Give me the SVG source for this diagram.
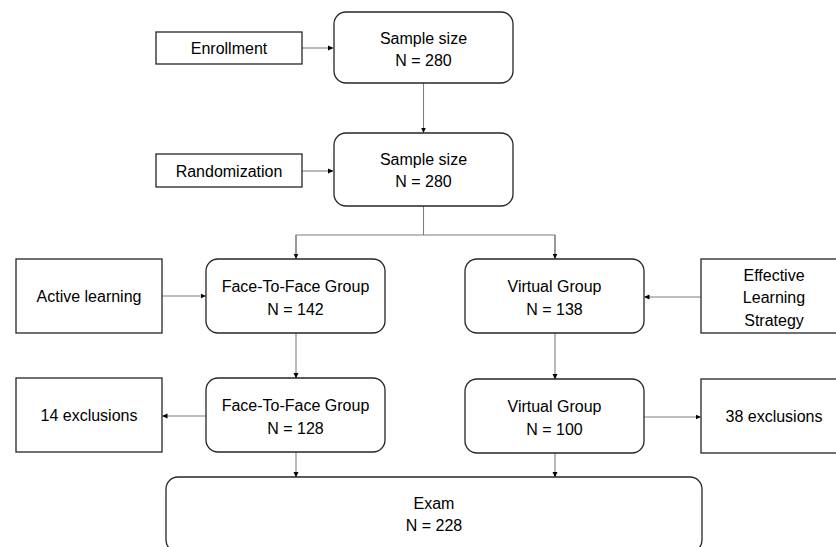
<svg xmlns="http://www.w3.org/2000/svg" width="836" height="547" viewBox="0 0 836 547">
<style>
.box{fill:#fff;stroke:#262626;stroke-width:1.3}
.t{font-family:"Liberation Sans",Arial,sans-serif;font-size:16px;fill:#000;text-anchor:middle}
.c{fill:none;stroke:#7f7f7f;stroke-width:1.1}
</style>
<defs>
<marker id="ah" markerWidth="6" markerHeight="6" refX="5" refY="3" orient="auto" markerUnits="userSpaceOnUse">
<path d="M0,0.5 L5.5,3 L0,5.5 Z" fill="#000"/>
</marker>
</defs>
<rect width="836" height="547" fill="#fff"/>
<g id="connectors">
<line class="c" x1="302" y1="48" x2="333" y2="48" marker-end="url(#ah)"/>
<line class="c" x1="423.5" y1="83" x2="423.5" y2="132.5" marker-end="url(#ah)"/>
<line class="c" x1="302" y1="171" x2="333" y2="171" marker-end="url(#ah)"/>
<polyline class="c" points="423.5,206 423.5,235"/>
<polyline class="c" points="296,258.5 296,235 555,235 555,258.5"/>
<line class="c" x1="296" y1="235" x2="296" y2="258.5" marker-end="url(#ah)"/>
<line class="c" x1="555" y1="235" x2="555" y2="258.5" marker-end="url(#ah)"/>
<line class="c" x1="162" y1="296" x2="205.5" y2="296" marker-end="url(#ah)"/>
<line class="c" x1="701" y1="297" x2="644.5" y2="297" marker-end="url(#ah)"/>
<line class="c" x1="296" y1="333" x2="296" y2="378" marker-end="url(#ah)"/>
<line class="c" x1="555" y1="333" x2="555" y2="379" marker-end="url(#ah)"/>
<line class="c" x1="206" y1="416" x2="162.5" y2="416" marker-end="url(#ah)"/>
<line class="c" x1="644" y1="417" x2="700.5" y2="417" marker-end="url(#ah)"/>
<line class="c" x1="296" y1="452" x2="296" y2="477" marker-end="url(#ah)"/>
<line class="c" x1="555" y1="453" x2="555" y2="477" marker-end="url(#ah)"/>
</g>
<g id="enrollment">
<rect class="box" x="156" y="32" width="146" height="32"/>
<text class="t" x="229" y="54">Enrollment</text>
</g>
<g id="sample1">
<rect class="box" x="334" y="12" width="179" height="71" rx="12"/>
<text class="t" x="423.5" y="43.5">Sample size</text>
<text class="t" x="423.5" y="65.5">N = 280</text>
</g>
<g id="randomization">
<rect class="box" x="156" y="154" width="146" height="33"/>
<text class="t" x="229" y="176.5">Randomization</text>
</g>
<g id="sample2">
<rect class="box" x="334" y="133" width="179" height="73" rx="12"/>
<text class="t" x="423.5" y="165">Sample size</text>
<text class="t" x="423.5" y="187">N = 280</text>
</g>
<g id="active">
<rect class="box" x="16" y="259" width="146" height="74"/>
<text class="t" x="89" y="301.5">Active learning</text>
</g>
<g id="ftf1">
<rect class="box" x="206" y="259" width="179" height="74" rx="12"/>
<text class="t" x="295.5" y="292">Face-To-Face Group</text>
<text class="t" x="295.5" y="314.5">N = 142</text>
</g>
<g id="virtual1">
<rect class="box" x="465" y="259" width="179" height="74" rx="12"/>
<text class="t" x="554.5" y="292">Virtual Group</text>
<text class="t" x="554.5" y="314.5">N = 138</text>
</g>
<g id="effective">
<rect class="box" x="701" y="259" width="146" height="74"/>
<text class="t" x="774" y="280.5">Effective</text>
<text class="t" x="774" y="303">Learning</text>
<text class="t" x="774" y="325.5">Strategy</text>
</g>
<g id="excl14">
<rect class="box" x="16" y="378" width="146" height="74"/>
<text class="t" x="89" y="421">14 exclusions</text>
</g>
<g id="ftf2">
<rect class="box" x="206" y="378" width="179" height="74" rx="12"/>
<text class="t" x="295.5" y="411">Face-To-Face Group</text>
<text class="t" x="295.5" y="433.5">N = 128</text>
</g>
<g id="virtual2">
<rect class="box" x="465" y="379" width="179" height="74" rx="12"/>
<text class="t" x="554.5" y="412">Virtual Group</text>
<text class="t" x="554.5" y="434.5">N = 100</text>
</g>
<g id="excl38">
<rect class="box" x="701" y="379" width="146" height="74"/>
<text class="t" x="774" y="422">38 exclusions</text>
</g>
<g id="exam">
<rect class="box" x="166" y="477" width="536" height="75" rx="12"/>
<text class="t" x="434" y="508.5">Exam</text>
<text class="t" x="434" y="531">N = 228</text>
</g>
</svg>
